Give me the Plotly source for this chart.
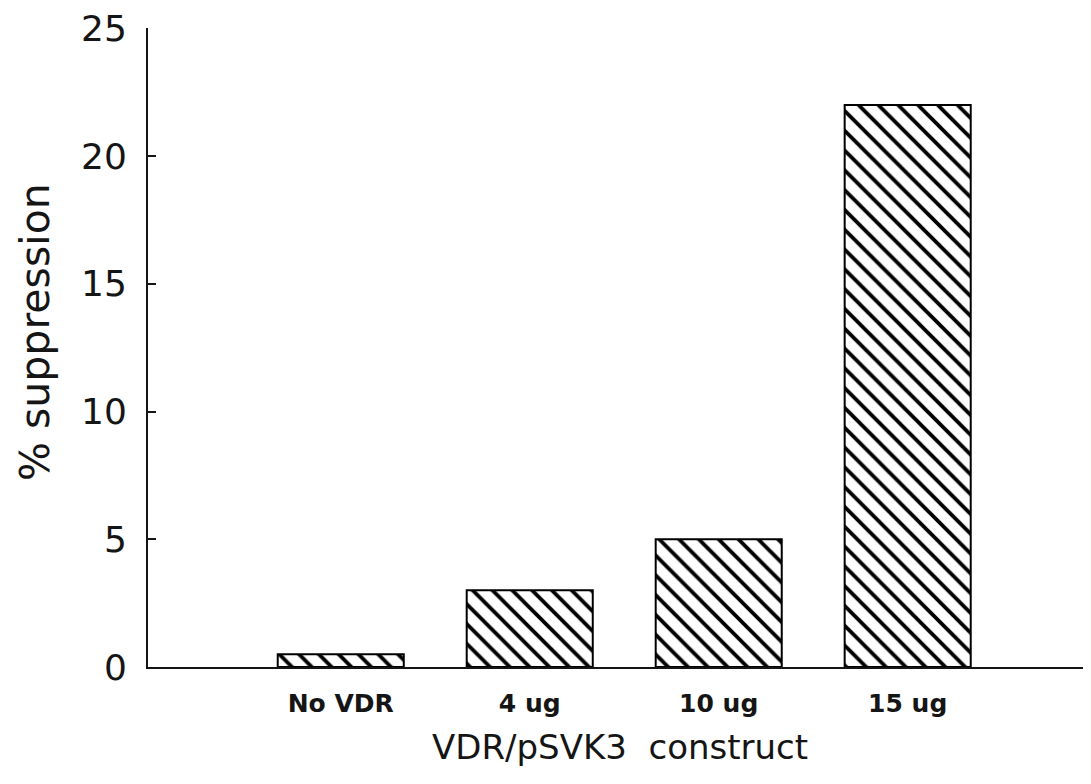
import plotly.graph_objects as go

categories = ["No VDR", "4 ug", "10 ug", "15 ug"]
positions = [1, 2, 3, 4]
suppression = [0.5, 3.0, 5.0, 22.0]
y_ticks = [0, 5, 10, 15, 20, 25]

INK = "#000000"
FONT = "DejaVu Sans, Liberation Sans, Arial, sans-serif"

fig = go.Figure()
fig.add_trace(go.Bar(
    x=positions, y=suppression, width=0.667,
    marker=dict(color="white",
                line=dict(color=INK, width=2),
                pattern=dict(shape="\\", size=14, solidity=0.27, fgcolor=INK, fgopacity=1,
                             bgcolor="white", fillmode="overlay")),
))

# page body has an 8px margin; compensate so the plot area lands where the reference has it
OFF = 8
W, H = 1091 - OFF, 784 - OFF
L, R, T, B = 148 - OFF, 0, 28 - OFF, 117
pw, ph = W - L - R, H - T - B
y0 = 667  # page pixel of y=0

fig.update_layout(
    width=W, height=H,
    margin=dict(l=L, r=R, t=T, b=B),
    paper_bgcolor="white", plot_bgcolor="white",
    showlegend=False,
    font=dict(family=FONT, color="#151515"),
    xaxis=dict(range=[-0.02, 4.97], tickvals=positions, ticktext=categories,
               showline=True, linecolor="#151515", linewidth=2,
               showgrid=False, zeroline=False, ticks="", automargin=False,
               tickfont=dict(size=25, family="DejaVu Sans", weight="bold"),
               ticklabelstandoff=13),
    yaxis=dict(range=[0, 25.01], tickvals=y_ticks,
               showline=True, linecolor="#151515", linewidth=2,
               showgrid=False, zeroline=False, automargin=False,
               ticks="inside", ticklen=8, tickwidth=2, tickcolor="#151515",
               tickfont=dict(size=36), ticklabelstandoff=12,
               ticklabeloverflow="allow"),
    annotations=[
        dict(text="% suppression", xref="paper", x=(35 - 148) / pw, yref="paper", y=(y0 - 332) / ph,
             showarrow=False, textangle=-90, font=dict(size=41),
             xanchor="center", yanchor="middle"),
        dict(text="VDR/pSVK3  construct", xref="paper", x=0.5, yref="paper", y=(y0 - 747) / ph,
             showarrow=False, font=dict(size=34), xanchor="center", yanchor="middle"),
    ],
)
fig.write_html("out.html")
